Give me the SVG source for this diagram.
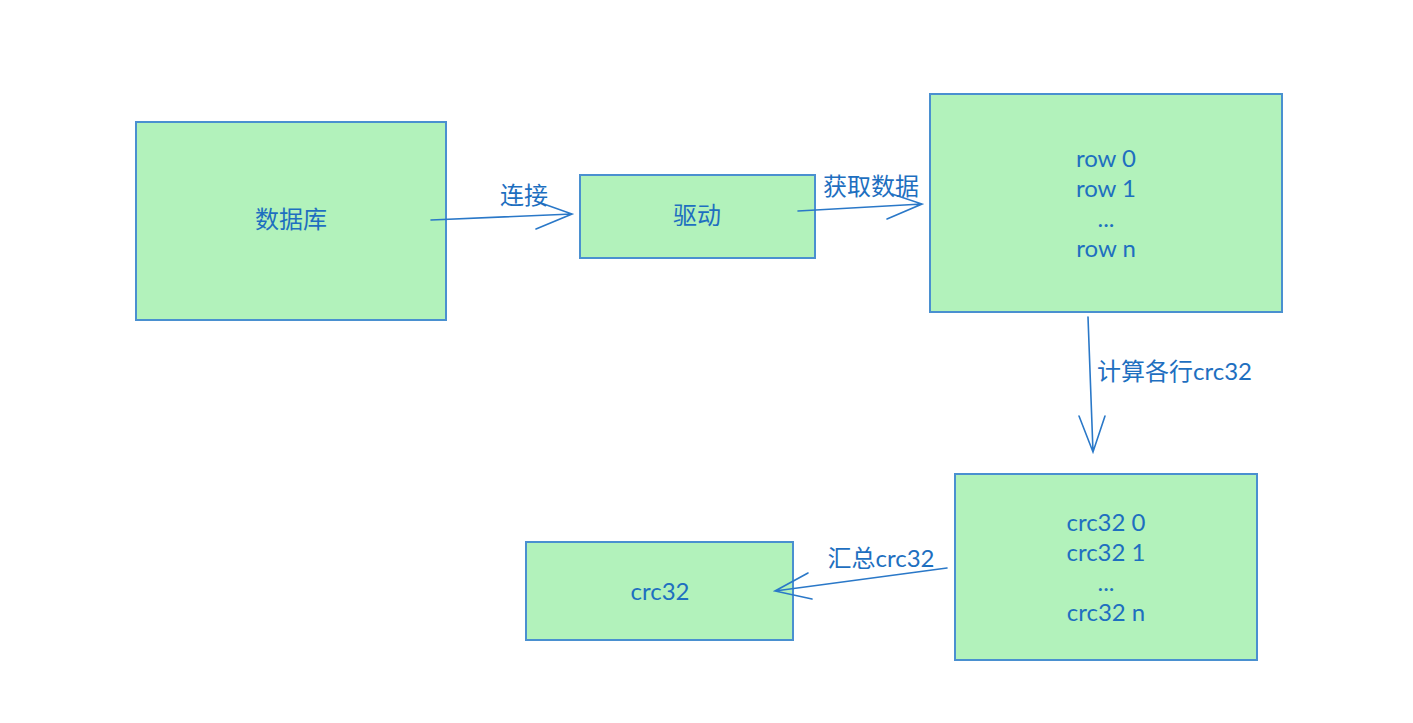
<svg xmlns="http://www.w3.org/2000/svg" width="1413" height="723" viewBox="0 0 1413 723">
<style>
.box{fill:#b2f2bb;stroke:#4a90d0;stroke-width:2}
text{font-family:Lato,"Noto Sans CJK SC",sans-serif;font-size:24px;fill:#1e6fc0;text-anchor:middle;dominant-baseline:central}
.c{fill:none;stroke:#2a78c8;stroke-width:1.6;stroke-linecap:round}
</style>
<rect width="1413" height="723" fill="#ffffff"/>
<g id="db"><rect class="box" x="136" y="122" width="310" height="198"/><text x="291" y="218">数据库</text></g>
<g id="driver"><rect class="box" x="580" y="175" width="235" height="83"/><text x="697" y="214">驱动</text></g>
<g id="rows"><rect class="box" x="930" y="94" width="352" height="218"/>
<text x="1106" y="157">row 0</text><text x="1106" y="187">row 1</text><text x="1106" y="217">...</text><text x="1106" y="247">row n</text></g>
<g id="crcs"><rect class="box" x="955" y="474" width="302" height="186"/>
<text x="1106" y="521">crc32 0</text><text x="1106" y="551">crc32 1</text><text x="1106" y="581">...</text><text x="1106" y="611">crc32 n</text></g>
<g id="crc"><rect class="box" x="526" y="542" width="267" height="98"/><text x="660" y="590">crc32</text></g>
<g id="connectors">
<path class="c" d="M431 220 L572 214 M541 203 L572 214 L536 229"/>
<text x="524" y="194">连接</text>
<path class="c" d="M798 211 L922 204 M892 194 L922 204 L887 219"/>
<text x="871" y="185">获取数据</text>
<path class="c" d="M1088 317 L1093 452 M1079 416 L1093 452 L1105 416"/>
<text x="1097" y="370" style="text-anchor:start">计算各行crc32</text>
<path class="c" d="M947 568 L775 591 M808 573 L775 591 L812 599"/>
<text x="881" y="557">汇总crc32</text>
</g>
</svg>
